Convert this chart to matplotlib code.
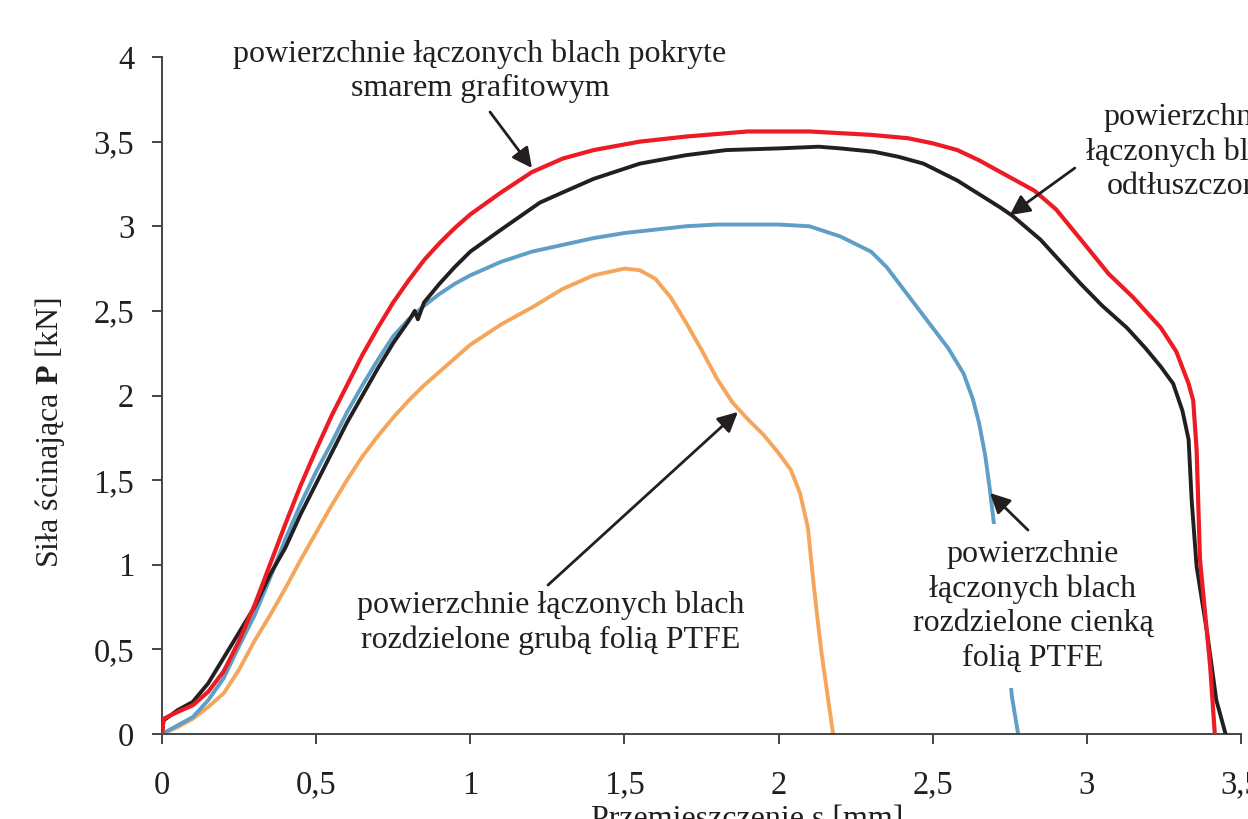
import matplotlib
matplotlib.use("Agg")
import matplotlib.pyplot as plt

plt.rcParams['font.family'] = ['Liberation Serif', 'DejaVu Serif']
plt.rcParams['mathtext.fontset'] = 'custom'
plt.rcParams['mathtext.rm'] = 'Liberation Serif'
plt.rcParams['mathtext.bf'] = 'Liberation Serif:bold'

# smar grafitowy (czerwona)
red_x = [0, 0.005, 0.05, 0.1, 0.15, 0.2, 0.25, 0.3, 0.35, 0.4, 0.45, 0.5, 0.55, 0.6, 0.65,
         0.7, 0.75, 0.8, 0.85, 0.9, 0.95, 1.0, 1.1, 1.2, 1.3, 1.4, 1.55, 1.7, 1.9, 2.1,
         2.3, 2.42, 2.5, 2.58, 2.65, 2.72, 2.83, 2.9, 2.99, 3.07, 3.15, 3.24, 3.29, 3.33,
         3.345, 3.356, 3.367, 3.4, 3.415]
red_y = [0, 0.09, 0.13, 0.17, 0.25, 0.37, 0.55, 0.76, 1.0, 1.24, 1.47, 1.68, 1.88, 2.06, 2.24,
         2.4, 2.55, 2.68, 2.8, 2.9, 2.99, 3.07, 3.2, 3.32, 3.4, 3.45, 3.5, 3.53, 3.56, 3.56,
         3.54, 3.52, 3.49, 3.45, 3.39, 3.32, 3.21, 3.1, 2.9, 2.72, 2.58, 2.4, 2.26, 2.07,
         1.97, 1.68, 1.03, 0.4, 0]

# odtluszczone (czarna)
black_x = [0, 0.005, 0.05, 0.1, 0.15, 0.2, 0.25, 0.3, 0.35, 0.4, 0.45, 0.5, 0.55, 0.6, 0.65,
           0.7, 0.75, 0.8, 0.82, 0.83, 0.85, 0.9, 0.95, 1.0, 1.1, 1.226, 1.3, 1.4, 1.55, 1.7,
           1.83, 2.0, 2.13, 2.2, 2.31, 2.39, 2.47, 2.58, 2.65, 2.72, 2.76, 2.85, 2.92, 2.98,
           3.05, 3.13, 3.19, 3.24, 3.28, 3.31, 3.33, 3.34, 3.356, 3.39, 3.42, 3.45]
black_y = [0, 0.08, 0.14, 0.19, 0.3, 0.45, 0.6, 0.75, 0.94, 1.1, 1.3, 1.48, 1.66, 1.84, 2.0,
           2.16, 2.31, 2.44, 2.5, 2.45, 2.55, 2.66, 2.76, 2.85, 2.98, 3.14, 3.2, 3.28, 3.37, 3.42,
           3.45, 3.46, 3.47, 3.46, 3.44, 3.41, 3.37, 3.27, 3.19, 3.11, 3.06, 2.92, 2.78, 2.66,
           2.53, 2.4, 2.28, 2.17, 2.07, 1.91, 1.74, 1.38, 0.99, 0.6, 0.2, 0]

# cienka folia PTFE (niebieska)
blue_x = [0, 0.05, 0.1, 0.15, 0.2, 0.25, 0.3, 0.35, 0.4, 0.45, 0.5, 0.55, 0.6, 0.65, 0.7,
          0.75, 0.8, 0.85, 0.9, 0.95, 1.0, 1.1, 1.2, 1.3, 1.4, 1.5, 1.6, 1.7, 1.8, 1.9, 2.0,
          2.1, 2.2, 2.3, 2.35, 2.4, 2.45, 2.5, 2.55, 2.6, 2.63, 2.65, 2.67, 2.685, 2.7,
          2.72, 2.74, 2.757, 2.777]
blue_y = [0, 0.05, 0.1, 0.2, 0.33, 0.52, 0.7, 0.92, 1.15, 1.36, 1.55, 1.72, 1.9, 2.06, 2.21,
          2.35, 2.45, 2.53, 2.6, 2.66, 2.71, 2.79, 2.85, 2.89, 2.93, 2.96, 2.98, 3.0, 3.01, 3.01, 3.01,
          3.0, 2.94, 2.85, 2.76, 2.64, 2.52, 2.4, 2.28, 2.13, 1.98, 1.84, 1.65, 1.45, 1.22,
          0.95, 0.55, 0.22, 0]

# gruba folia PTFE (pomaranczowa)
orange_x = [0, 0.05, 0.1, 0.15, 0.2, 0.25, 0.3, 0.35, 0.4, 0.45, 0.5, 0.55, 0.6, 0.65, 0.7,
            0.75, 0.8, 0.85, 0.9, 1.0, 1.1, 1.2, 1.3, 1.4, 1.5, 1.55, 1.6, 1.65, 1.7, 1.75,
            1.8, 1.85, 1.9, 1.95, 2.0, 2.04, 2.07, 2.095, 2.11, 2.125, 2.14, 2.155, 2.165, 2.177]
orange_y = [0, 0.04, 0.09, 0.16, 0.24, 0.38, 0.55, 0.7, 0.86, 1.03, 1.19, 1.35, 1.5, 1.64, 1.76,
            1.87, 1.97, 2.06, 2.14, 2.3, 2.42, 2.52, 2.63, 2.71, 2.75, 2.74, 2.69, 2.58, 2.43, 2.27,
            2.1, 1.96, 1.86, 1.77, 1.66, 1.56, 1.42, 1.22, 0.95, 0.7, 0.47, 0.28, 0.15, 0]

x_ticks = [0, 0.5, 1, 1.5, 2, 2.5, 3, 3.5]
y_ticks = [0, 0.5, 1, 1.5, 2, 2.5, 3, 3.5, 4]

fig = plt.figure(figsize=(12.48, 8.19), dpi=100)
ax = fig.add_axes([162 / 1248, 1 - 734 / 819, (1241 - 162) / 1248, (734 - 57) / 819])

ax.plot(orange_x, orange_y, color='#f5a65b', lw=2.8, zorder=2)
ax.plot(blue_x, blue_y, color='#5f9ec6', lw=2.8, zorder=2)
ax.plot(black_x, black_y, color='#231f20', lw=2.8, zorder=3)
ax.plot(red_x, red_y, color='#ed1c24', lw=3.0, zorder=4)

ax.set_xlim(0, 3.5)
ax.set_ylim(0, 4)
ax.set_xticks(x_ticks)
ax.set_yticks(y_ticks)
fmt = lambda v: ('%g' % v).replace('.', ',')
ax.set_xticklabels([fmt(v) for v in x_ticks])
ax.set_yticklabels([fmt(v) for v in y_ticks])

for s in ['top', 'right']:
    ax.spines[s].set_visible(False)
for s in ['left', 'bottom']:
    ax.spines[s].set_color('#444444')
    ax.spines[s].set_linewidth(1.4)
ax.tick_params(axis='both', direction='out', length=7, width=1.4, color='#444444',
               labelsize=23.5, labelcolor='#231f20')
ax.tick_params(axis='x', pad=19)
ax.tick_params(axis='y', pad=13)

txt = dict(fontsize=23, color='#231f20', ha='center', va='center', linespacing=1.24)
arrow = dict(arrowstyle='-|>', color='#231f20', lw=2, mutation_scale=30, shrinkA=0, shrinkB=0)

ax.text(1.031, 3.915, 'powierzchnie łączonych blach pokryte\nsmarem grafitowym', **txt)
ax.annotate('', xy=(1.2, 3.344), xytext=(1.064, 3.675), arrowprops=arrow, zorder=6)

ax.text(3.334, 3.44, 'powierzchnie\nłączonych blach\nodtłuszczone', clip_on=False, **txt)
ax.annotate('', xy=(2.75, 3.066), xytext=(2.961, 3.344), arrowprops=arrow, zorder=6)

ax.text(2.825, 0.755, 'powierzchnie\nłączonych blach\nrozdzielone cienką\nfolią PTFE', zorder=5,
        bbox=dict(boxstyle='square,pad=0.5', fc='white', ec='none'), **txt)
ax.annotate('', xy=(2.686, 1.424), xytext=(2.809, 1.205), arrowprops=arrow, zorder=6)

ax.text(1.262, 0.655, 'powierzchnie łączonych blach\nrozdzielone grubą folią PTFE', **txt)
ax.annotate('', xy=(1.868, 1.903), xytext=(1.252, 0.88), arrowprops=arrow, zorder=6)

fig.text(50 / 1248, 1 - 433 / 819, r'Siła ścinająca $\mathbf{P}$ [kN]', rotation=90,
         ha='center', va='center', fontsize=23, color='#231f20')
fig.text(747 / 1248, 1 - 827 / 819, 'Przemieszczenie s [mm]', ha='center', va='baseline',
         fontsize=23, color='#231f20')

fig.savefig('out.png', dpi=100)
